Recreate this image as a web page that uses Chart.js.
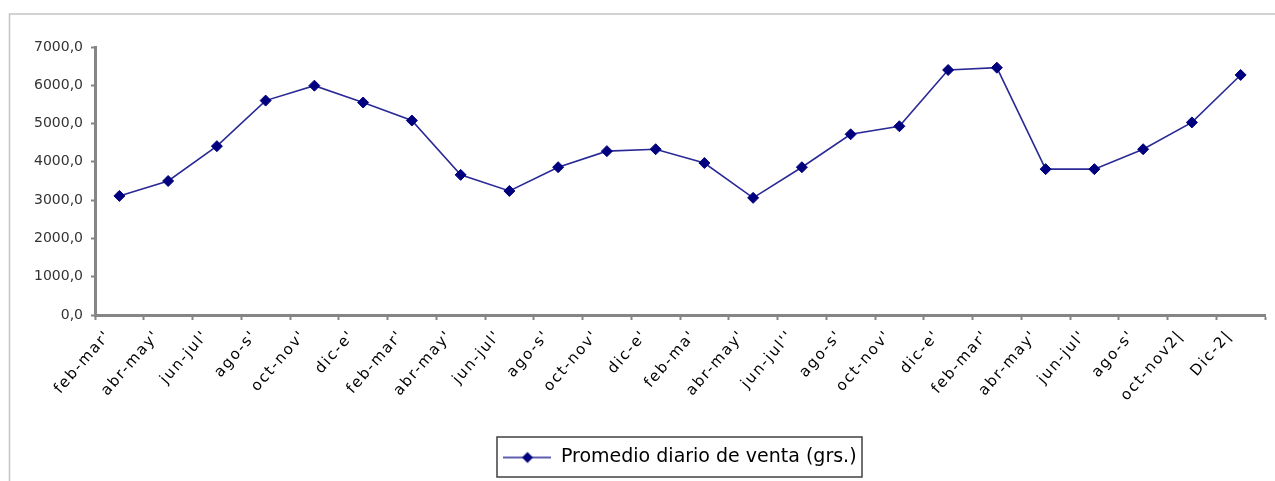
<!DOCTYPE html>
<html>
<head>
<meta charset="utf-8">
<script src="https://cdn.jsdelivr.net/npm/chart.js@4"></script>
<style>
  html, body { margin: 0; padding: 0; background: #fff; }
  #wrap { width: 1275px; height: 481px; position: relative; }
</style>
</head>
<body>
<div id="wrap"><canvas id="lineChart" width="1275" height="481"></canvas></div>
<script>
// Data
const periods = [
  "feb-mar'", "abr-may'", "jun-jul'", "ago-s'", "oct-nov'", "dic-e'",
  "feb-mar'", "abr-may'", "jun-jul'", "ago-s'", "oct-nov'", "dic-e'",
  "feb-ma'", "abr-may'", "jun-jul''", "ago-s'", "oct-nov'", "dic-e'",
  "feb-mar'", "abr-may'", "jun-jul'", "ago-s'", "oct-nov2|", "Dic-2|"
];
const ventaDiaria = [
  3110, 3500, 4410, 5600, 5990, 5550, 5080, 3660, 3240, 3860, 4280, 4330,
  3970, 3060, 3860, 4720, 4930, 6400, 6460, 3810, 3810, 4330, 5030, 6270
];
const seriesName = 'Promedio diario de venta (grs.)';

const navy = '#00007f';
const lineBlue = '#2a2a96';
const axisGray = '#858585';

// legend sample: short line with a diamond in the middle
const sample = document.createElement('canvas');
sample.width = 48; sample.height = 14;
(function () {
  const c = sample.getContext('2d');
  c.strokeStyle = lineBlue; c.lineWidth = 1.5;
  c.beginPath(); c.moveTo(0, 7); c.lineTo(48, 7); c.stroke();
  c.fillStyle = navy;
  c.beginPath(); c.moveTo(24, 1.5); c.lineTo(29.5, 7); c.lineTo(24, 12.5); c.lineTo(18.5, 7); c.closePath(); c.fill();
})();

// legend centred under the plot, wide spaced x labels, frame and legend box
const framePlugin = {
  id: 'frame',
  afterLayout(chart) {
    const a = chart.chartArea, lg = chart.legend;
    const shift = (a.left + a.right) / 2 - (lg.left + lg.right) / 2;
    lg.left += shift;
    lg.right += shift;
    const sx = chart.scales.x;
    if (!sx._spaced) {
      const orig = sx.drawLabels;
      sx.drawLabels = function (area) {
        this.ctx.save();
        this.ctx.letterSpacing = '1.8px';
        orig.call(this, area);
        this.ctx.restore();
      };
      sx._spaced = true;
    }
  },
  afterDraw(chart) {
    const c = chart.ctx;
    c.save();
    c.strokeStyle = '#c4c4c4';
    c.lineWidth = 1.5;
    c.beginPath();
    c.moveTo(9.5, 481); c.lineTo(9.5, 14); c.lineTo(1275, 14);
    c.stroke();
    c.strokeStyle = '#404040';
    c.lineWidth = 1.5;
    c.strokeRect(497, 437, 365, 40);
    c.restore();
  }
};

const ctx = document.getElementById('lineChart').getContext('2d');

const config = {
  type: 'line',
  data: {
    labels: periods,
    datasets: [{
      label: seriesName,
      data: ventaDiaria,
      borderColor: lineBlue,
      borderWidth: 1.6,
      pointStyle: 'rectRot',
      pointRadius: 5.5,
      pointBackgroundColor: navy,
      pointBorderColor: navy,
      pointBorderWidth: 1,
      tension: 0,
      fill: false
    }]
  },
  options: {
    responsive: false,
    animation: false,
    layout: { padding: { left: 10, right: 10, top: 47, bottom: 4 } },
    scales: {
      x: {
        offset: true,
        grid: {
          offset: true,
          drawOnChartArea: false,
          drawTicks: true,
          tickLength: 5,
          tickWidth: 2,
          tickColor: axisGray
        },
        border: { color: axisGray, width: 3 },
        ticks: {
          autoSkip: false,
          maxRotation: 49,
          minRotation: 49,
          padding: 7,
          labelOffset: -11,
          color: '#000',
          font: { family: 'DejaVu Sans', size: 15 }
        },
        afterFit(scale) { scale.height = 121; }
      },
      y: {
        min: 0,
        max: 7000,
        grid: {
          drawOnChartArea: false,
          drawTicks: true,
          tickLength: 4,
          tickWidth: 2,
          tickColor: axisGray
        },
        border: { color: axisGray, width: 3 },
        ticks: {
          stepSize: 1000,
          padding: 8,
          color: '#333',
          font: { family: 'DejaVu Sans', size: 14 },
          callback: v => v.toFixed(1).replace('.', ',')
        },
        afterFit(scale) { scale.width = 85; }
      }
    },
    plugins: {
      legend: {
        display: true,
        position: 'bottom',
        labels: {
          usePointStyle: true,
          pointStyleWidth: 48,
          boxHeight: 17,
          padding: 12,
          color: '#000',
          font: { family: 'DejaVu Sans', size: 19 },
          generateLabels(chart) {
            return [{
              text: seriesName,
              pointStyle: sample,
              fillStyle: navy,
              strokeStyle: navy,
              lineWidth: 0,
              hidden: false,
              datasetIndex: 0
            }];
          }
        }
      },
      tooltip: { enabled: false }
    }
  },
  plugins: [framePlugin]
};

const myChart = new Chart(ctx, config);
</script>
</body>
</html>
